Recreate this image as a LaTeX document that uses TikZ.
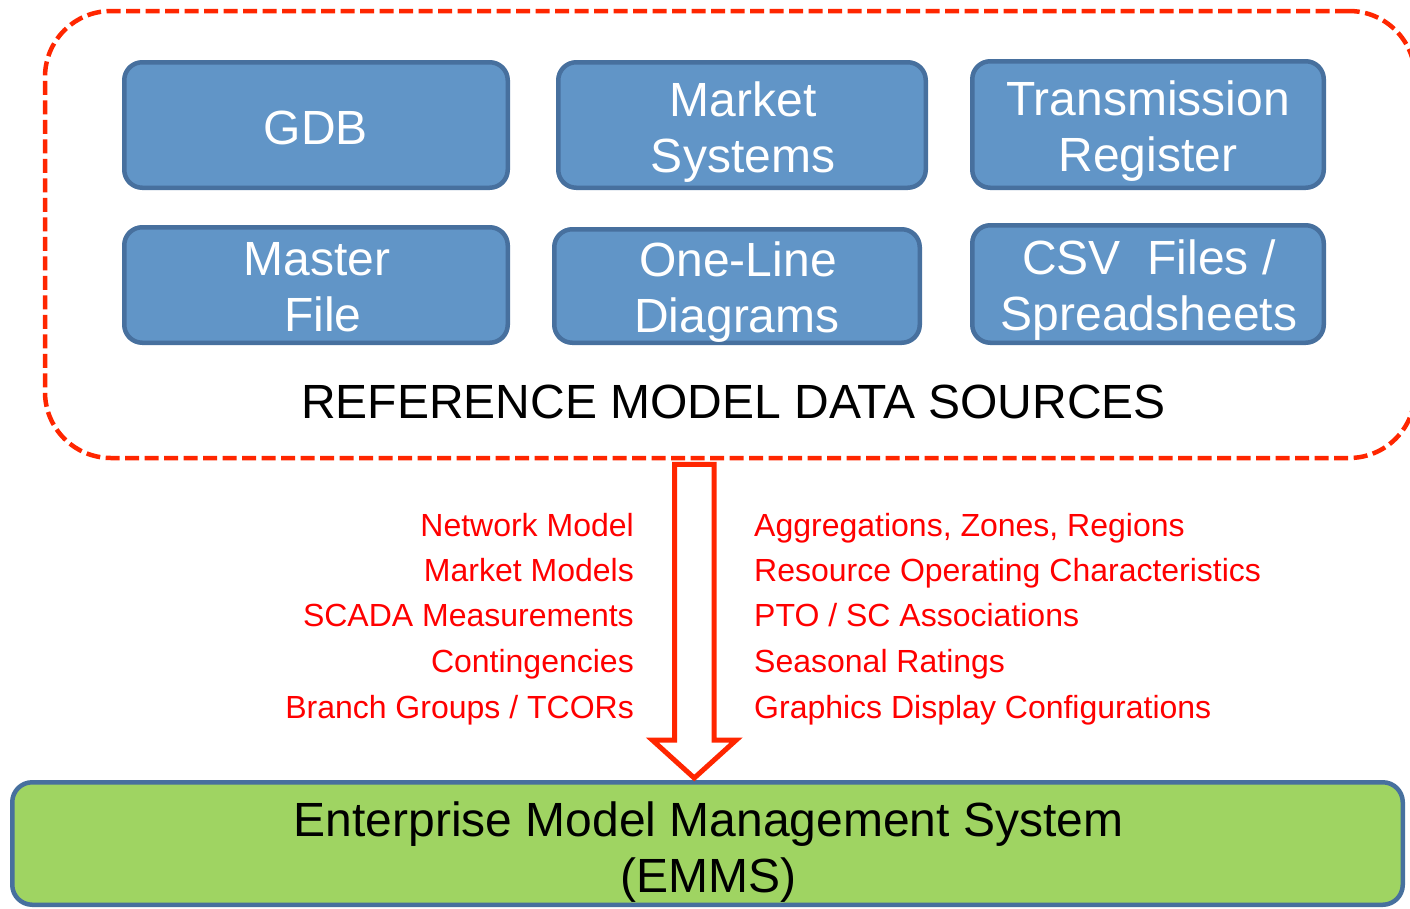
\documentclass[tikz,border=0pt]{standalone}
\usepackage{fontspec}
\setmainfont{Liberation Sans}
\usetikzlibrary{calc}
\definecolor{boxfill}{RGB}{97,149,199}
\definecolor{boxline}{RGB}{71,112,158}
\definecolor{dashred}{RGB}{255,38,0}
\definecolor{labred}{RGB}{255,0,0}
\definecolor{emmsfill}{RGB}{159,212,98}
\tikzset{
  srcbox/.style={draw=boxline, fill=boxfill, line width=4.5pt, rounded corners=18pt, inner sep=0pt},
  srctxt/.style={text=white, font=\fontsize{48}{56}\selectfont, anchor=base, inner sep=0pt},
  lblleft/.style={text=labred, font=\fontsize{32}{38}\selectfont, anchor=base east, inner sep=0pt},
  lblright/.style={text=labred, font=\fontsize{32}{38}\selectfont, anchor=base west, inner sep=0pt},
  refframe/.style={draw=dashred, line width=4.5pt, dash pattern=on 14pt off 5.5pt, rounded corners=66pt, inner sep=0pt},
  emmsbox/.style={draw=boxline, fill=emmsfill, line width=4.5pt, rounded corners=20pt, inner sep=0pt},
  blacktxt/.style={text=black, font=\fontsize{48}{56}\selectfont, anchor=base, inner sep=0pt},
  bigarrow/.style={draw=dashred, fill=white, line width=5pt, line join=miter},
}
\begin{document}
\begin{tikzpicture}[x=1pt,y=-1pt]
\useasboundingbox (0,0) rectangle (1410,908);
\clip (0,0) rectangle (1410,908);

% dashed frame of reference sources
\node[refframe, minimum width=1370pt, minimum height=447pt] (refbox) at (730,234.5) {};

% source boxes
\node[srcbox, minimum width=383.5pt, minimum height=125.5pt] (gdb) at (316,125) {};
\node[srcbox, minimum width=367.5pt, minimum height=125.5pt] (mkt) at (742,125) {};
\node[srcbox, minimum width=351.5pt, minimum height=126.5pt] (trn) at (1148,124.5) {};
\node[srcbox, minimum width=383.5pt, minimum height=115.5pt] (mst) at (316,285) {};
\node[srcbox, minimum width=365.5pt, minimum height=113.5pt] (one) at (737,286) {};
\node[srcbox, minimum width=351.5pt, minimum height=117.5pt] (csv) at (1148,284) {};

\node[srctxt] (gdbt) at (316,144) {GDB};
\node[srctxt] (mktt1) at (743,116) {Market};
\node[srctxt] (mktt2) at (743,172) {Systems};
\node[srctxt] (trnt1) at (1148,115) {Transmission};
\node[srctxt] (trnt2) at (1148,171) {Register};
\node[srctxt] (mstt1) at (317,275) {Master};
\node[srctxt] (mstt2) at (323,331) {File};
\node[srctxt] (onet1) at (738,276) {One-Line};
\node[srctxt] (onet2) at (737,332) {Diagrams};
\node[srctxt] (csvt1) at (1149,274) {CSV\ \ Files /};
\node[srctxt] (csvt2) at (1149,330) {Spreadsheets};

\node[blacktxt] (reftitle) at (733.5,418) {REFERENCE MODEL DATA SOURCES};

% EMMS box
\node[emmsbox, minimum width=1390.5pt, minimum height=122.5pt] (emms) at (707.5,843.5) {};
\node[blacktxt] (emmst1) at (708.5,836) {Enterprise Model Management System};
\node[blacktxt] (emmst2) at (708.5,892) {(EMMS)};

% hollow arrow from sources to EMMS
\coordinate (atop) at ($(refbox.south)+(-35.75,4)$);
\coordinate (atip) at ($(atop |- emms.north)+(0,-2)$);
\draw[bigarrow] ($(atop)+(-19.75,0)$) -- ($(atip)+(-19.75,-38)$) -- ($(atip)+(-42,-38)$)
  -- (atip) -- ($(atip)+(42,-38)$) -- ($(atip)+(19.75,-38)$) -- ($(atop)+(19.75,0)$) -- cycle;

% labels left
\node[lblleft] (l1) at (634,536) {Network Model};
\node[lblleft] (l2) at (634,581.5) {Market Models};
\node[lblleft] (l3) at (634,626.5) {SCADA Measurements};
\node[lblleft] (l4) at (634,672) {Contingencies};
\node[lblleft] (l5) at (634,718) {Branch Groups / TCORs};

% labels right
\node[lblright] (r1) at (754,536) {Aggregations, Zones, Regions};
\node[lblright] (r2) at (754,581.5) {Resource Operating Characteristics};
\node[lblright] (r3) at (754,626.5) {PTO / SC Associations};
\node[lblright] (r4) at (754,672) {Seasonal Ratings};
\node[lblright] (r5) at (754,718) {Graphics Display Configurations};
\end{tikzpicture}
\end{document}
